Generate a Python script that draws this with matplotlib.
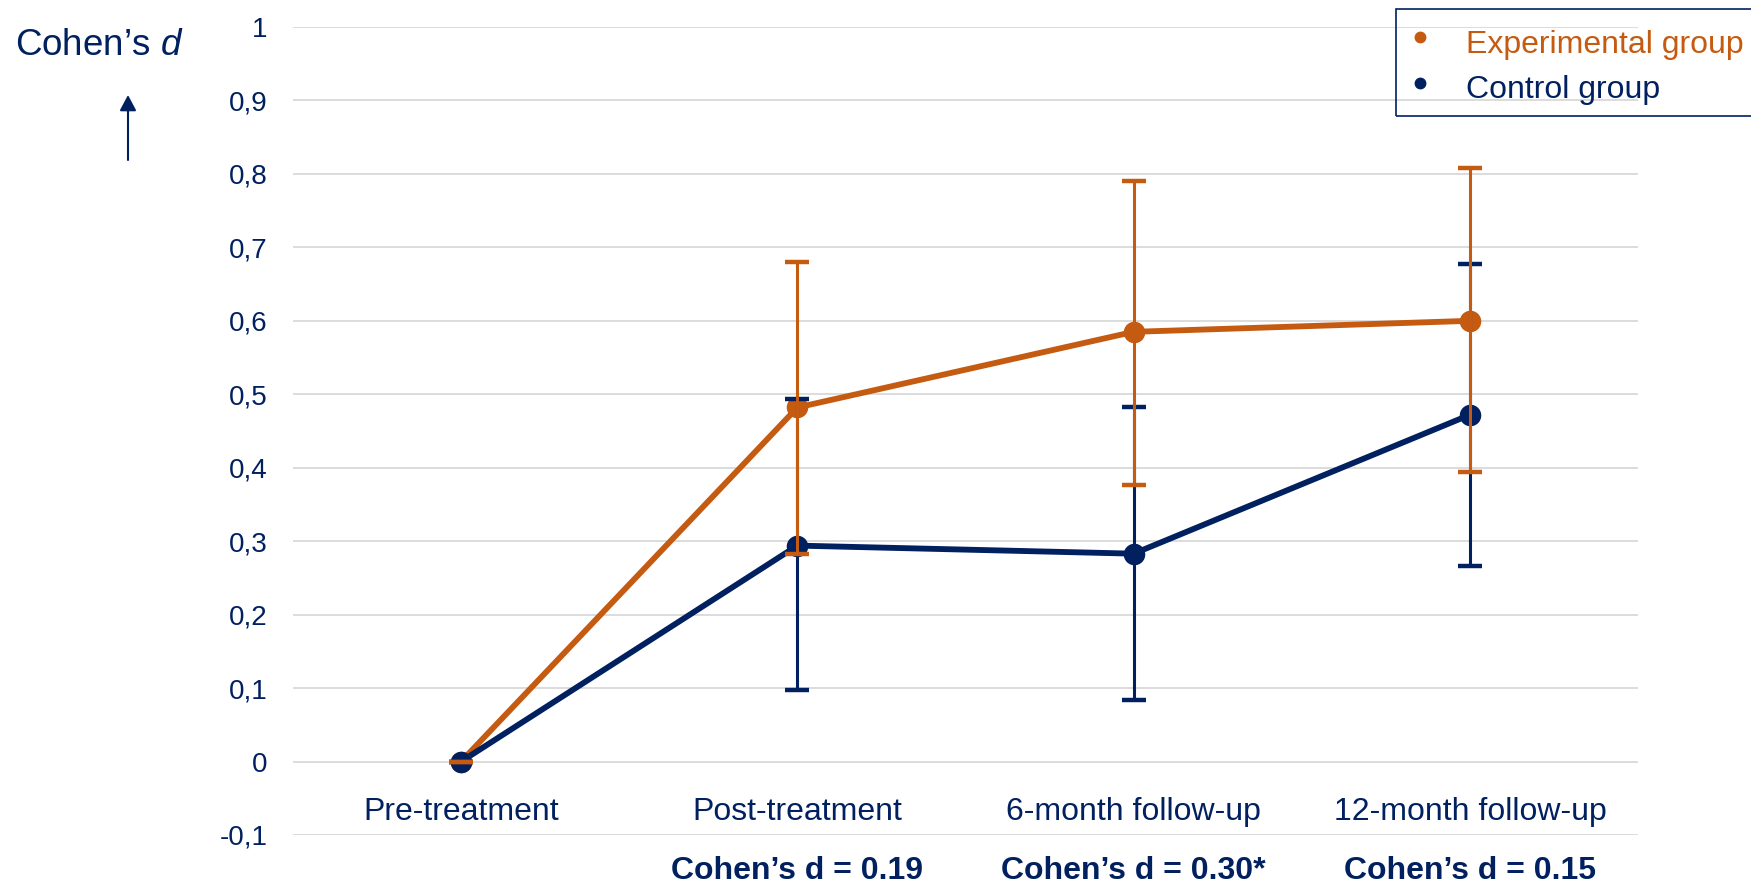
import matplotlib
matplotlib.use("Agg")
import matplotlib.pyplot as plt
from matplotlib.patches import Rectangle
from matplotlib.lines import Line2D
from matplotlib.ticker import FuncFormatter
import numpy as np

plt.rcParams['font.family'] = ['Liberation Sans', 'DejaVu Sans']
plt.rcParams['mathtext.fontset'] = 'custom'
plt.rcParams['mathtext.rm'] = 'Liberation Sans'
plt.rcParams['mathtext.it'] = 'Liberation Sans:italic'

# data
categories = ['Pre-treatment', 'Post-treatment', '6-month follow-up', '12-month follow-up']
exp_d = [0.0, 0.482, 0.585, 0.600]
exp_lo = [0.0, 0.283, 0.377, 0.394]
exp_hi = [0.0, 0.680, 0.790, 0.808]
ctrl_d = [0.0, 0.294, 0.283, 0.472]
ctrl_lo = [0.0, 0.097, 0.084, 0.266]
ctrl_hi = [0.0, 0.493, 0.482, 0.678]
between_labels = ['', 'Cohen\u2019s d = 0.19', 'Cohen\u2019s d = 0.30*', 'Cohen\u2019s d = 0.15']
yticks = [-0.1, 0, 0.1, 0.2, 0.3, 0.4, 0.5, 0.6, 0.7, 0.8, 0.9, 1.0]

ORANGE = '#C55A11'
NAVY = '#002060'
GRID = '#D9D9D9'

W, H = 1751, 883
fig = plt.figure(figsize=(W / 100, H / 100), dpi=100)


def fx(px):
    return px / W


def fy(py):
    return 1 - py / H


ax = fig.add_axes([fx(293), fy(835), fx(1638) - fx(293), fy(27) - fy(835)])

x = np.arange(len(categories))

for y in yticks:
    ax.axhline(y, color=GRID, lw=1.3, zorder=1)

ax.plot(x, exp_d, color=ORANGE, lw=4.2, zorder=2, solid_capstyle='round')
ax.plot(x, ctrl_d, color=NAVY, lw=4.2, zorder=2, solid_capstyle='round')
ax.plot(x, exp_d, 'o', color=ORANGE, ms=14.5, zorder=3)
ax.plot(x, ctrl_d, 'o', color=NAVY, ms=14.5, zorder=4)

ctrl_err = [np.subtract(ctrl_d, ctrl_lo), np.subtract(ctrl_hi, ctrl_d)]
exp_err = [np.subtract(exp_d, exp_lo), np.subtract(exp_hi, exp_d)]
ax.errorbar(x, ctrl_d, yerr=ctrl_err, fmt='none', ecolor=NAVY, elinewidth=2.2,
            capsize=8.3, capthick=3.2, zorder=5)
ax.errorbar(x, exp_d, yerr=exp_err, fmt='none', ecolor=ORANGE, elinewidth=2.2,
            capsize=8.3, capthick=3.2, zorder=6)

ax.set_xlim(-0.5, len(categories) - 0.5)
ax.set_ylim(-0.1, 1.0)
ax.set_yticks(yticks)
ax.yaxis.set_major_formatter(FuncFormatter(lambda v, p: ('%g' % round(v, 1)).replace('.', ',')))
ax.tick_params(axis='y', length=0, pad=18.5, labelsize=20, labelcolor=NAVY)
ax.set_xticks([])
for s in ax.spines.values():
    s.set_visible(False)

for i, lab in enumerate(categories):
    ax.text(i, -0.079, lab, ha='center', va='baseline', fontsize=23, color=NAVY)
for i, lab in enumerate(between_labels):
    if lab:
        ax.text(i, -0.1605, lab, ha='center', va='baseline', fontsize=23,
                fontweight='bold', color=NAVY, clip_on=False)

# y label and arrow
fig.text(fx(15), fy(55), 'Cohen\u2019s $d$', fontsize=26.5, color=NAVY, va='baseline')
ax.annotate('', xy=(fx(128), fy(95)), xytext=(fx(128), fy(160)),
            xycoords='figure fraction', textcoords='figure fraction',
            arrowprops=dict(arrowstyle='-|>,head_length=0.47,head_width=0.25',
                            lw=1.5, color=NAVY, mutation_scale=20,
                            shrinkA=0, shrinkB=0))

# legend box
fig.patches.append(Rectangle((fx(1396), fy(116)), fx(1770) - fx(1396), fy(9) - fy(116),
                             transform=fig.transFigure, fill=False, edgecolor=NAVY,
                             lw=1.2, clip_on=False))
for col, lab, ym, yb in [(ORANGE, 'Experimental group', 37, 53),
                         (NAVY, 'Control group', 83, 98)]:
    fig.lines.append(Line2D([fx(1420)], [fy(ym)], marker='o', ms=7.5, color=col,
                            transform=fig.transFigure))
    fig.text(fx(1466), fy(yb), lab, fontsize=23, color=col, va='baseline')

fig.savefig('out.png', dpi=100)
